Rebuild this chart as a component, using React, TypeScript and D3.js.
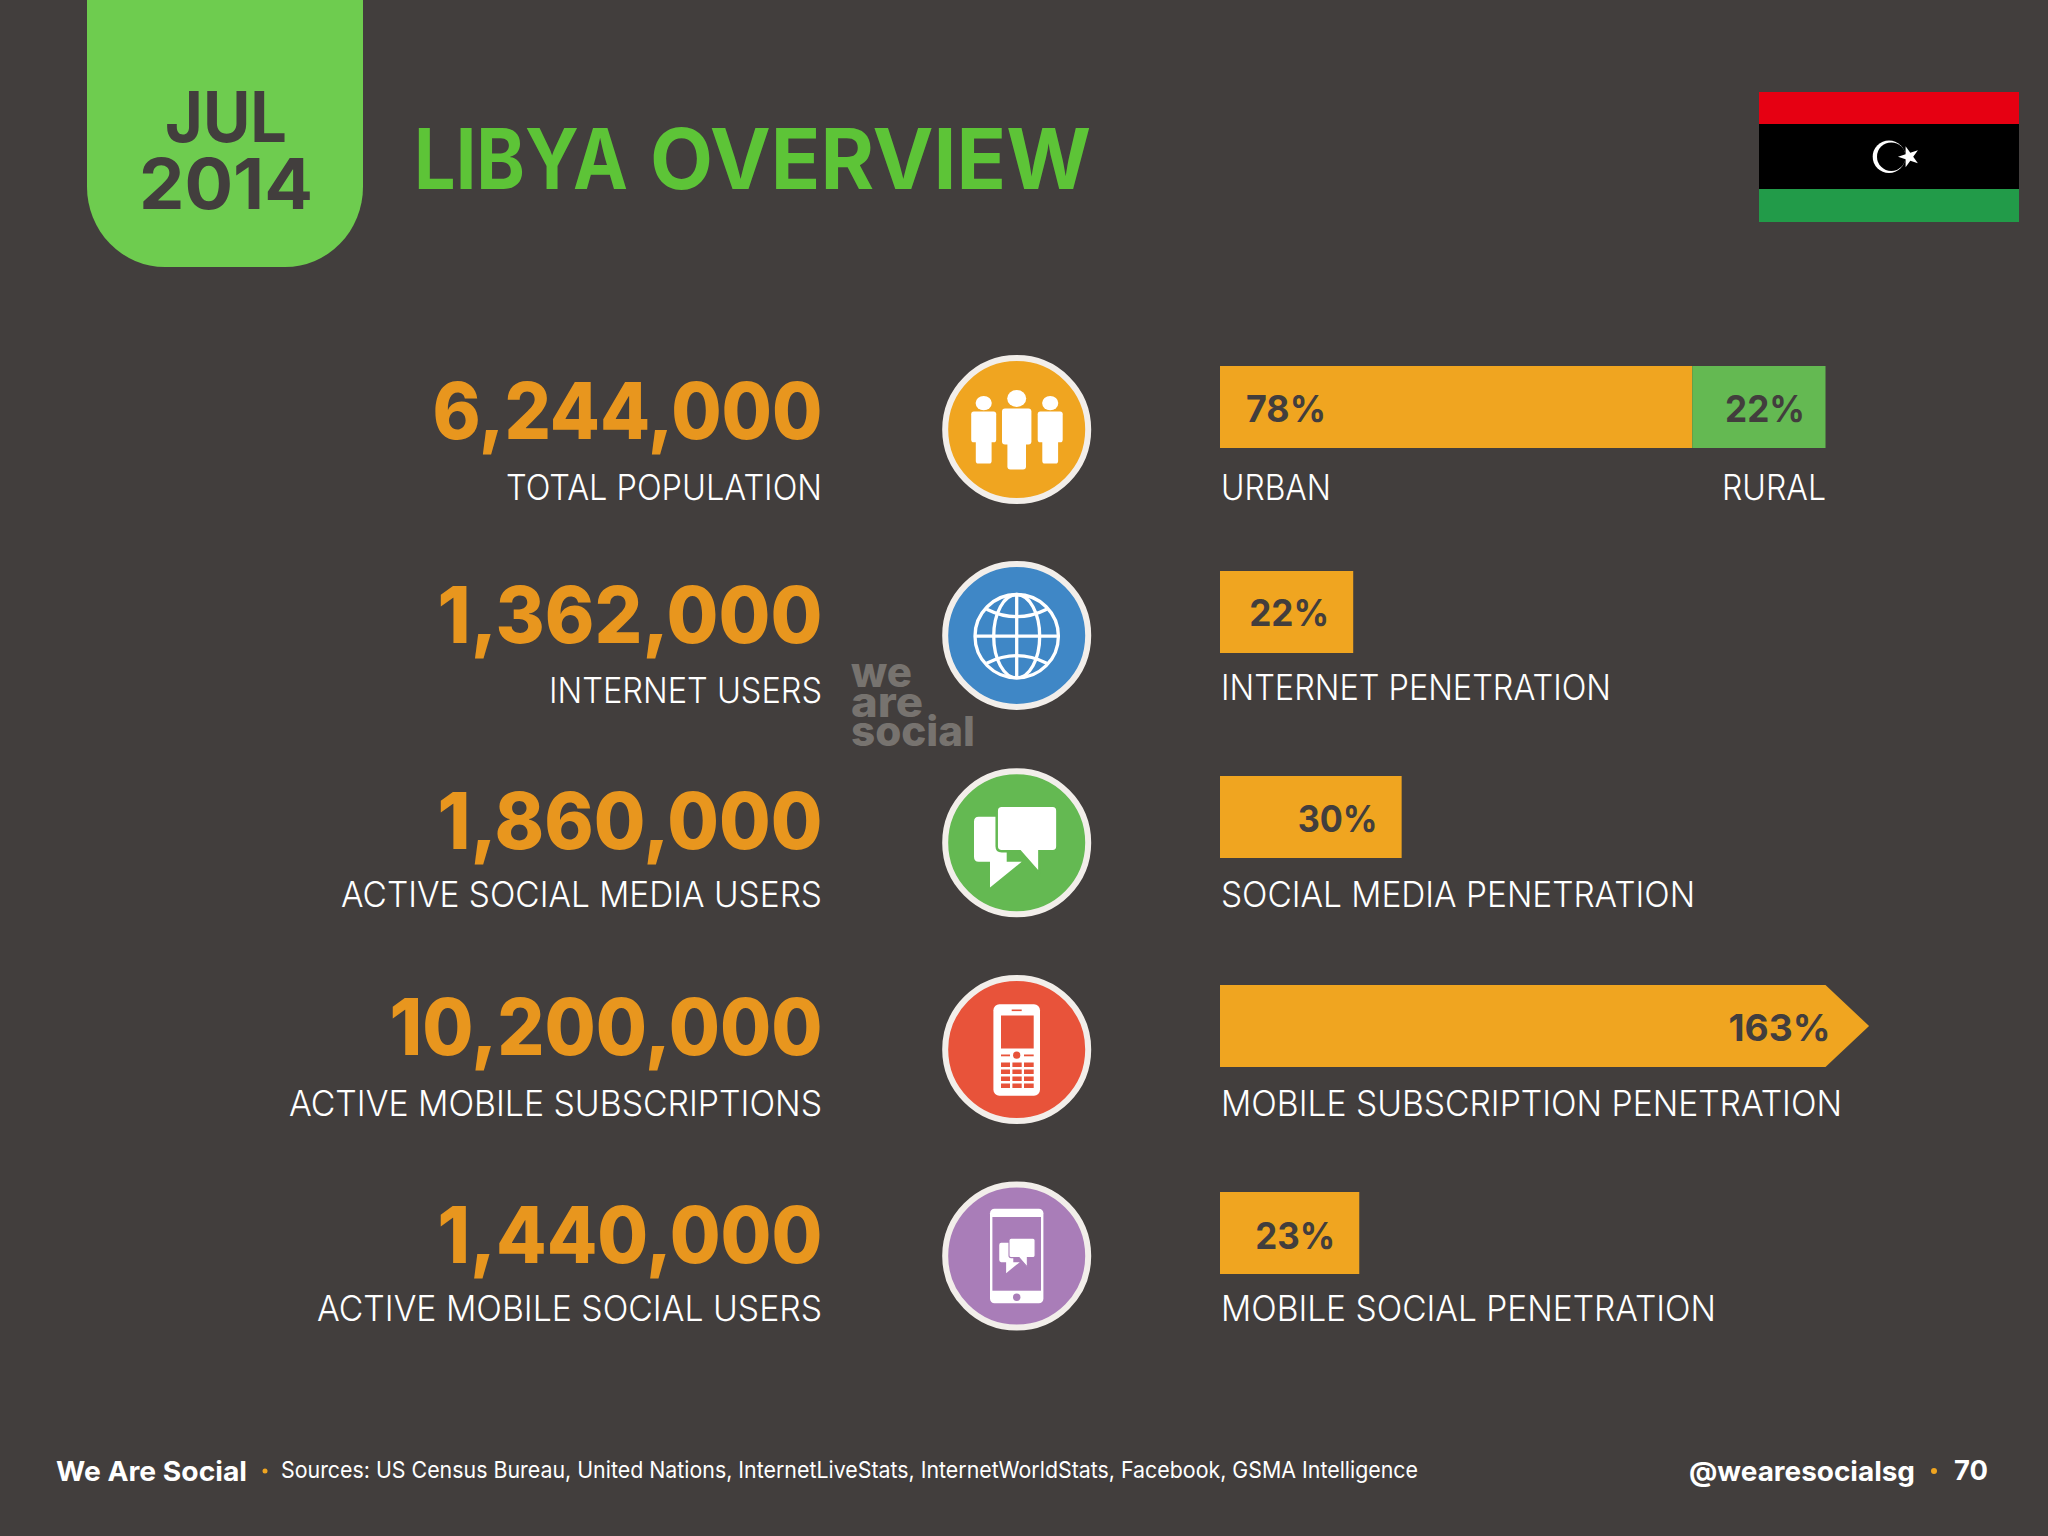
import React from 'react';
import * as d3 from 'd3';

const rowKeys = ['population', 'internet', 'social', 'mobile', 'mobileSocial'];
const totals = [6244000, 1362000, 1860000, 10200000, 1440000];
const totalLabels = ['TOTAL POPULATION', 'INTERNET USERS', 'ACTIVE SOCIAL MEDIA USERS', 'ACTIVE MOBILE SUBSCRIPTIONS', 'ACTIVE MOBILE SOCIAL USERS'];
const shares = [78, 22, 30, 163, 23];
const shareLabels = ['URBAN', 'INTERNET PENETRATION', 'SOCIAL MEDIA PENETRATION', 'MOBILE SUBSCRIPTION PENETRATION', 'MOBILE SOCIAL PENETRATION'];
const ruralShare = 22;
const ruralLabel = 'RURAL';
const watermark = ['we', 'are', 'social'];
const sources = 'Sources: US Census Bureau, United Nations, InternetLiveStats, InternetWorldStats, Facebook, GSMA Intelligence';

const BG = '#423e3d';
const ORANGE = '#f0a520';
const GREEN = '#64b952';
const RING = '#f2eeea';
const FONT = 'Inter, sans-serif';

const x = d3.scaleLinear().domain([0, 100]).range([1220, 1825.5]);
const barH = 82;

// rows are not quite evenly spaced in the slide, so ordinal scales rather than a band
const barTop = d3.scaleOrdinal(rowKeys, [366, 571, 776, 985, 1192]);
const circleY = d3.scaleOrdinal(rowKeys, [429.6, 635.4, 842.8, 1049.5, 1256]);
const totalBase = d3.scaleOrdinal(rowKeys, [439, 643, 849, 1055, 1263]);
const totalLabelBase = d3.scaleOrdinal(rowKeys, [500, 703, 907, 1116, 1321]);
const shareLabelBase = d3.scaleOrdinal(rowKeys, [500, 700, 907, 1116, 1321]);
const shareBase = d3.scaleOrdinal(rowKeys, [422, 626, 832, 1041, 1249]);
const circleFill = d3.scaleOrdinal(rowKeys, [ORANGE, '#3f87c6', GREEN, '#e8533a', '#a97db8']);

// measured text widths, the slide font is not installed
const totalW = d3.scaleOrdinal(rowKeys, [390, 385, 385, 433, 385]);
const totalLabelW = d3.scaleOrdinal(rowKeys, [316, 273, 481, 533, 505]);
const shareLabelW = d3.scaleOrdinal(rowKeys, [110, 390, 474, 621, 495]);

const fmt = d3.format(',');

function T({ x, y, w, size, weight = 400, fill = '#fff', anchor = 'start', children }: any) {
  return (
    <text x={x} y={y} fontSize={size} fontWeight={weight} fill={fill} textAnchor={anchor} fontFamily={FONT}
      textLength={w} lengthAdjust="spacingAndGlyphs">{children}</text>
  );
}

function People() {
  const person = (cx: number, top: number, s: number) => (
    <g transform={`translate(${cx},${top}) scale(${s})`} fill="#fff" key={cx}>
      <ellipse cx={0} cy={-10} rx={9.5} ry={8.5} />
      <rect x={-14.7} y={0} width={29.4} height={36} rx={3} />
      <rect x={-9.3} y={20} width={18.6} height={41} rx={3} />
    </g>
  );
  return <g>{person(-33, -18, 0.85)}{person(33.5, -18, 0.85)}{person(0, -21, 1)}</g>;
}

function Globe() {
  const r = 41.7;
  return (
    <g fill="none" stroke="#fff" strokeWidth={3.3} transform="translate(0,0.8)">
      <circle r={r} />
      <ellipse rx={23} ry={r} />
      <line x1={0} x2={0} y1={-r} y2={r} />
      <line x1={-r} x2={r} y1={0} y2={0} />
      <path d="M-30,-27Q0,-12 30,-27" />
      <path d="M-30,27Q0,12 30,27" />
    </g>
  );
}

function Chat({ gap }: any) {
  return (
    <g>
      <path d="M-38,-26H-10V19H5L-26.7,44.6V19H-38Q-42.7,19 -42.7,14V-21Q-42.7,-26 -38,-26Z" fill="#fff" />
      <path d="M-15,-37H36Q40.7,-37 40.7,-32V3.4Q40.7,8.4 36,8.4H22.7V30.6L3.3,8.4H-15Q-20,8.4 -20,3.4V-32Q-20,-37 -15,-37Z"
        fill="#fff" stroke={gap} strokeWidth={2.5} />
    </g>
  );
}

function Handset({ fill }: any) {
  const cols = [[-15.7, 9], [-4.3, 9.3], [7.3, 9.7]];
  const rows = [13, 20, 27, 34];
  return (
    <g>
      <rect x={-23.3} y={-45.3} width={46.6} height={91.6} rx={6} fill="#fff" />
      <rect x={-5} y={-40} width={10} height={1.6} fill={fill} />
      <rect x={-15.7} y={-34} width={32.7} height={33} fill={fill} />
      <circle cx={0} cy={5.7} r={3.6} fill={fill} />
      <rect x={-15.7} y={5} width={9} height={1.8} fill={fill} />
      <rect x={7.3} y={5} width={9.7} height={1.8} fill={fill} />
      {rows.map(ry => cols.map(([cx, w]) => <rect key={`${ry}${cx}`} x={cx} y={ry} width={w} height={4.5} fill={fill} />))}
    </g>
  );
}

function SmartPhone({ fill }: any) {
  return (
    <g>
      <rect x={-26.7} y={-47.3} width={53.4} height={94.6} rx={4.5} fill="#fff" />
      <rect x={-24.3} y={-39} width={48.6} height={73.7} fill={fill} />
      <circle cy={41.3} r={3.7} fill={fill} />
      <g transform="translate(0.9,-2) scale(0.43)"><Chat gap={fill} /></g>
    </g>
  );
}

const icons: any = {
  population: () => <People />,
  internet: () => <Globe />,
  social: (c: string) => <Chat gap={c} />,
  mobile: (c: string) => <Handset fill={c} />,
  mobileSocial: (c: string) => <SmartPhone fill={c} />,
};

// the 163% bar does not fit the 0-100 axis, it is cut and gets an arrow head
function Bar({ k, v }: any) {
  const y0 = barTop(k);
  if (v <= 100) return <rect x={x(0)} y={y0} width={x(v) - x(0)} height={barH} fill={ORANGE} />;
  const line = d3.line();
  const pts: any = [[x(0), y0], [x(100), y0], [x(107.2), y0 + barH / 2], [x(100), y0 + barH], [x(0), y0 + barH]];
  return <path d={line(pts) + 'Z'} fill={ORANGE} />;
}

export default function App() {
  const star = d3.symbol(d3.symbolStar, 136)();
  return (
    <svg width={2048} height={1536} viewBox="0 0 2048 1536" style={{ position: 'absolute', left: 0, top: 0, display: 'block' }}>
      <rect width={2048} height={1536} fill={BG} />

      <rect x={87} y={-120} width={276} height={387} rx={78} ry={80} fill="#6ecc4f" />
      <T x={226} y={142} w={122} size={70} weight={700} fill={BG} anchor="middle">JUL</T>
      <T x={226} y={209} w={174} size={70} weight={700} fill={BG} anchor="middle">2014</T>
      <T x={414} y={189} w={214} size={84} weight={700} fill="#5dc437">LIBYA</T>
      <T x={650} y={189} w={441} size={84} weight={700} fill="#5dc437">OVERVIEW</T>

      <rect x={1759} y={92} width={260} height={32} fill="#e60012" />
      <rect x={1759} y={124} width={260} height={65} fill="#000" />
      <rect x={1759} y={189} width={260} height={33} fill="#229b49" />
      <circle cx={1889} cy={156.7} r={16.3} fill="#fff" />
      <circle cx={1891.3} cy={156.7} r={14.3} fill="#000" />
      <path d={star} transform="translate(1909,156.7) rotate(-90)" fill="#fff" />

      {rowKeys.map((k, i) => {
        const c = circleFill(k);
        return (
          <g key={k}>
            <T x={822.5} y={totalBase(k)} w={totalW(k)} size={78} weight={800} fill="#e8961e" anchor="end">{fmt(totals[i])}</T>
            <T x={822} y={totalLabelBase(k)} w={totalLabelW(k)} size={36} weight={300} anchor="end">{totalLabels[i]}</T>
            <g transform={`translate(1016.7,${circleY(k)})`}>
              <circle r={71.5} fill={c} stroke={RING} strokeWidth={6} />
              {icons[k](c)}
            </g>
            <Bar k={k} v={shares[i]} />
            <T x={1221} y={shareLabelBase(k)} w={shareLabelW(k)} size={36} weight={300}>{shareLabels[i]}</T>
            {shares[i] > 100
              ? <T x={x(100) + 5} y={shareBase(k)} w={102} size={37} weight={700} fill={BG} anchor="end">{shares[i]}%</T>
              : shares[i] > 50
                ? <T x={x(0) + 26} y={shareBase(k)} w={80} size={37} weight={700} fill={BG}>{shares[i]}%</T>
                : <T x={x(shares[i]) - 24} y={shareBase(k)} w={80} size={37} weight={700} fill={BG} anchor="end">{shares[i]}%</T>}
          </g>
        );
      })}

      <rect x={x(shares[0])} y={barTop(rowKeys[0])} width={x(shares[0] + ruralShare) - x(shares[0])} height={barH} fill={GREEN} />
      <T x={x(100) - 20.5} y={shareBase(rowKeys[0])} w={80} size={37} weight={700} fill={BG} anchor="end">{ruralShare}%</T>
      <T x={1826} y={500} w={104} size={36} weight={300} anchor="end">{ruralLabel}</T>

      {watermark.map((w, i) => (
        <T key={w} x={851} y={687 + i * 29.5} w={[61, 72, 124][i]} size={41} weight={800} fill="#77736f">{w}</T>
      ))}

      <T x={56} y={1481} w={191} size={27} weight={700}>We Are Social</T>
      <circle cx={265} cy={1471} r={2.5} fill={ORANGE} />
      <T x={281} y={1478} w={1137} size={23} weight={400}>{sources}</T>
      <T x={1689} y={1481} w={226} size={27} weight={700}>@wearesocialsg</T>
      <circle cx={1934} cy={1471} r={3} fill={ORANGE} />
      <T x={1954} y={1480} w={34} size={27} weight={700}>70</T>
    </svg>
  );
}
